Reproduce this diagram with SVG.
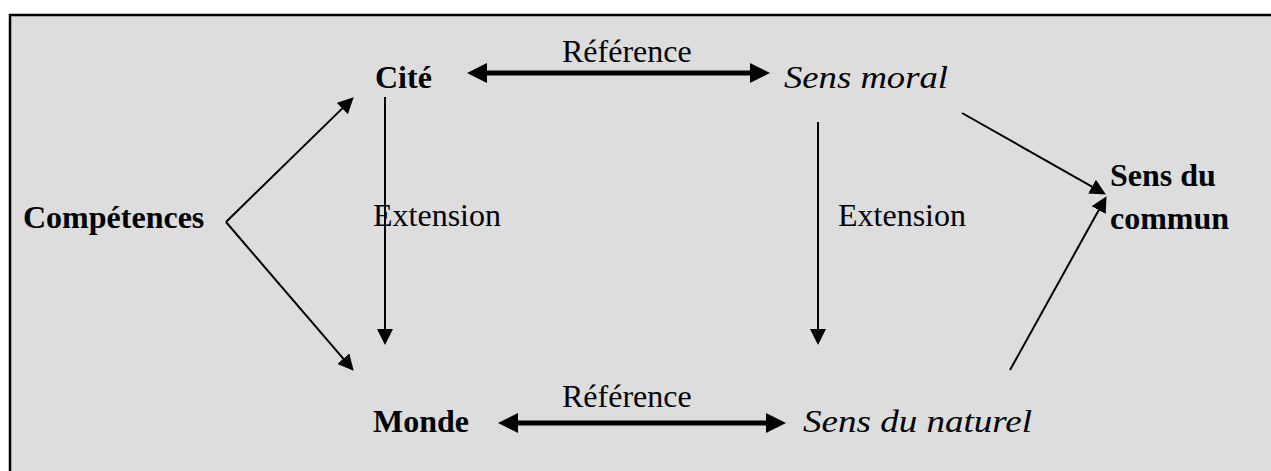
<svg xmlns="http://www.w3.org/2000/svg" width="1271" height="471" viewBox="0 0 1271 471">
<style>
text{font-family:"Liberation Serif","Times New Roman",serif;font-size:32px;fill:#000}
.b{font-weight:bold}
.i{font-style:italic}
.thick{stroke:#000;stroke-width:5;fill:none}
.thin{stroke:#000;stroke-width:2;fill:none}
</style>
<defs>
<marker id="big" markerUnits="userSpaceOnUse" markerWidth="20" markerHeight="20" viewBox="0 0 20 20" refX="2" refY="10" orient="auto-start-reverse"><path d="M0,0 L20,10 L0,20 z" fill="#000"/></marker>
<marker id="sm" markerUnits="userSpaceOnUse" markerWidth="16" markerHeight="16" viewBox="0 0 16 16" refX="3" refY="8" orient="auto"><path d="M0,0 L16,8 L0,16 z" fill="#000"/></marker>
</defs>
<rect x="10" y="15" width="1275" height="470" fill="#dddddd" stroke="#000" stroke-width="2.5"/>
<g id="competences"><text class="b" x="23" y="228">Compétences</text></g>
<g id="cite"><text class="b" x="375" y="88">Cité</text></g>
<g id="monde"><text class="b" x="373" y="432">Monde</text></g>
<g id="sens-moral"><text class="i" x="784" y="88" textLength="164" lengthAdjust="spacingAndGlyphs">Sens moral</text></g>
<g id="sens-naturel"><text class="i" x="803" y="432" textLength="229" lengthAdjust="spacingAndGlyphs">Sens du naturel</text></g>
<g id="sens-commun"><text class="b" x="1110" y="186">Sens du</text><text class="b" x="1110" y="229">commun</text></g>
<g id="connectors">
<line class="thick" x1="485" y1="73" x2="752" y2="73" marker-start="url(#big)" marker-end="url(#big)"/>
<text x="562" y="62">Référence</text>
<line class="thick" x1="516" y1="423" x2="768" y2="423" marker-start="url(#big)" marker-end="url(#big)"/>
<text x="562" y="407">Référence</text>
<line class="thin" x1="385" y1="97" x2="385" y2="332" marker-end="url(#sm)"/>
<text x="373" y="226">Extension</text>
<line class="thin" x1="818" y1="122" x2="818" y2="332" marker-end="url(#sm)"/>
<text x="838" y="226">Extension</text>
<line class="thin" x1="226" y1="222" x2="344.4" y2="106.4" marker-end="url(#sm)"/>
<line class="thin" x1="226" y1="222" x2="345.2" y2="360.9" marker-end="url(#sm)"/>
<line class="thin" x1="962" y1="113" x2="1094.6" y2="188.1" marker-end="url(#sm)"/>
<line class="thin" x1="1010" y1="370" x2="1100.2" y2="207.5" marker-end="url(#sm)"/>
</g>
</svg>
